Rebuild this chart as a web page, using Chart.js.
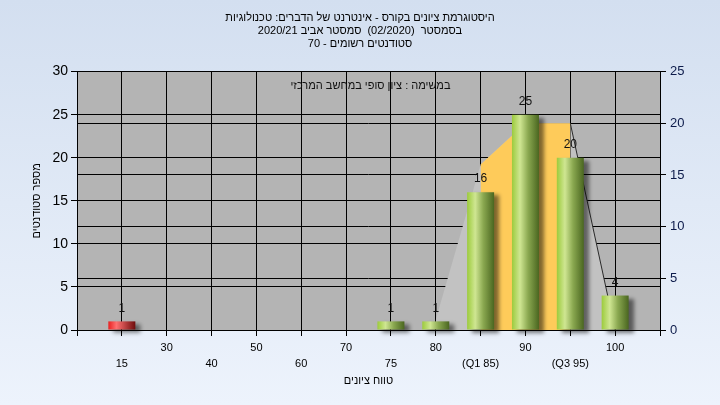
<!DOCTYPE html>
<html lang="he">
<head>
<meta charset="utf-8">
<title>היסטוגרמת ציונים</title>
<script src="https://cdn.jsdelivr.net/npm/chart.js@4.4.1/dist/chart.umd.min.js"></script>
<style>
    html, body { margin: 0; padding: 0; }
    body {
        width: 720px;
        height: 405px;
        overflow: hidden;
        background: linear-gradient(to bottom, #d3dff0, #edf3fc);
    }
    canvas { display: block; }
</style>
</head>
<body>
<canvas id="gradeChart" width="720" height="405"></canvas>
<script>
// chart data
const titleLines = [
    'היסטוגרמת ציונים בקורס - אינטרנט של הדברים: טכנולוגיות',
    'בסמסטר  (02/2020)  סמסטר אביב 2020/21',
    'סטודנטים רשומים - 70'
];
const taskCaption = 'במשימה : ציון סופי במחשב המרכזי';
const xAxisTitle = 'טווח ציונים';
const yAxisTitle = 'מספר סטודנטים';

// empty entries at both ends keep the plot edges free
const categories = ['', '15', '30', '40', '50', '60', '70', '75', '80', '(Q1 85)', '90', '(Q3 95)', '100', ''];
const studentCounts = [null, 1, 0, 0, 0, 0, 0, 1, 1, 16, 25, 20, 4, null];
const curveValues = [null, null, null, null, null, null, null, null, 1, 16, 20, 20, 0, null];
const failingGrades = ['15'];

const leftTicks = [0, 5, 10, 15, 20, 25, 30];
const rightTicks = [0, 5, 10, 15, 20, 25];

document.addEventListener('DOMContentLoaded', function () {
    Chart.defaults.font.family = '"Liberation Sans", Arial, "DejaVu Sans", sans-serif';
    Chart.defaults.color = '#000';

    const q1Index = categories.indexOf('(Q1 85)');
    const q3Index = categories.indexOf('(Q3 95)');
    // the orange band is the part of the curve between Q1 and Q3
    const quartileBand = curveValues.map((v, i) => (i >= q1Index && i <= q3Index ? v : null));

    const BAR_WIDTH = 27;

    function barGradient(context) {
        const chart = context.chart;
        const xScale = chart.scales.x;
        if (context.type !== 'data' || !xScale) return '#9c3';
        if (!studentCounts[context.dataIndex]) return 'rgba(0,0,0,0)';
        const center = xScale.getPixelForValue(context.dataIndex);
        if (!isFinite(center)) return '#9c3';
        const g = chart.ctx.createLinearGradient(center - BAR_WIDTH / 2, 0, center + BAR_WIDTH / 2, 0);
        if (failingGrades.includes(categories[context.dataIndex])) {
            g.addColorStop(0, '#e82020');
            g.addColorStop(0.3, '#ff7070');
            g.addColorStop(1, '#6e0c0c');
        } else {
            g.addColorStop(0, '#9ccb3c');
            g.addColorStop(0.3, '#cfe692');
            g.addColorStop(0.6, '#8aa850');
            g.addColorStop(1, '#4a6620');
        }
        return g;
    }

    const plotBackground = {
        id: 'plotBackground',
        beforeDraw(chart) {
            const { ctx, chartArea: a } = chart;
            ctx.save();
            ctx.fillStyle = '#b4b4b4';
            ctx.fillRect(a.left, a.top, a.right - a.left, a.bottom - a.top);
            ctx.restore();
        }
    };

    // soft drop shadow under the bars only
    const barShadow = {
        id: 'barShadow',
        beforeDatasetDraw(chart, args) {
            if (args.index !== 0) return;
            const ctx = chart.ctx;
            ctx.save();
            ctx.shadowColor = 'rgba(0, 0, 0, 0.5)';
            ctx.shadowBlur = 4;
            ctx.shadowOffsetX = 5;
            ctx.shadowOffsetY = 3;
        },
        afterDatasetDraw(chart, args) {
            if (args.index !== 0) return;
            chart.ctx.restore();
        }
    };

    const barLabels = {
        id: 'barLabels',
        afterDatasetsDraw(chart) {
            const { ctx, chartArea: a } = chart;
            const meta = chart.getDatasetMeta(0);
            ctx.save();
            ctx.fillStyle = '#111';
            ctx.textAlign = 'center';
            ctx.textBaseline = 'middle';
            ctx.font = '12px "Liberation Sans", Arial, sans-serif';
            meta.data.forEach((bar, i) => {
                const v = studentCounts[i];
                if (!v) return;
                ctx.fillText(String(v), bar.x, bar.y - 13);
            });
            // caption inside the plot
            ctx.font = '11px "Liberation Sans", Arial, sans-serif';
            ctx.fillText(taskCaption, (a.left + a.right) / 2 + 2, a.top + 14);
            ctx.restore();
        }
    };

    const ctx = document.getElementById('gradeChart').getContext('2d');
    new Chart(ctx, {
        type: 'bar',
        data: {
            labels: categories,
            datasets: [
                {
                    label: 'students',
                    data: studentCounts,
                    yAxisID: 'y',
                    backgroundColor: barGradient,
                    borderWidth: 0,
                    inflateAmount: 0,
                    barThickness: BAR_WIDTH,
                    clip: false,
                    order: 0
                },
                {
                    type: 'line',
                    label: 'quartiles',
                    data: quartileBand,
                    yAxisID: 'y2',
                    fill: 'origin',
                    backgroundColor: '#fecb5a',
                    borderWidth: 0,
                    pointRadius: 0,
                    tension: 0,
                    order: 1
                },
                {
                    type: 'line',
                    label: 'curve',
                    data: curveValues,
                    yAxisID: 'y2',
                    fill: 'origin',
                    backgroundColor: '#c2c2c2',
                    borderWidth: 1,
                    segment: {
                        borderColor: c => (c.p0DataIndex === q3Index ? '#2a2a2a' : 'rgba(0,0,0,0)')
                    },
                    pointRadius: 0,
                    tension: 0,
                    order: 2
                }
            ]
        },
        options: {
            responsive: false,
            animation: false,
            layout: { padding: 0 },
            plugins: {
                legend: { display: false },
                tooltip: { enabled: false },
                title: {
                    display: true,
                    text: titleLines,
                    color: '#000',
                    font: { size: 11, weight: 'normal', lineHeight: 1.2 },
                    padding: { top: 11, bottom: 21 }
                }
            },
            scales: {
                x: {
                    offset: false,
                    grid: { offset: false, color: '#000', tickLength: 6, tickColor: '#000' },
                    border: { color: '#000' },
                    ticks: {
                        autoSkip: false,
                        maxRotation: 0,
                        padding: 4,
                        font: { size: 11, lineHeight: 1.45 },
                        color: '#000',
                        callback: function (value, index) {
                            const label = categories[index];
                            return index % 2 === 1 ? ['', label] : label;
                        }
                    },
                    title: {
                        display: true,
                        text: xAxisTitle,
                        font: { size: 11 },
                        padding: { top: 0, bottom: 17 }
                    },
                    afterFit: s => { s.height = 75; }
                },
                y: {
                    position: 'left',
                    min: leftTicks[0],
                    max: leftTicks[leftTicks.length - 1],
                    afterBuildTicks: s => { s.ticks = leftTicks.map(v => ({ value: v })); },
                    grid: { color: '#000', tickLength: 6, tickColor: '#000' },
                    border: { color: '#000' },
                    ticks: { padding: 3, font: { size: 14 }, color: '#000' },
                    title: {
                        display: true,
                        text: yAxisTitle,
                        font: { size: 11 },
                        padding: { top: 30, bottom: 0 }
                    },
                    afterFit: s => { s.width = 77; }
                },
                y2: {
                    position: 'right',
                    min: rightTicks[0],
                    max: rightTicks[rightTicks.length - 1],
                    afterBuildTicks: s => { s.ticks = rightTicks.map(v => ({ value: v })); },
                    grid: { color: '#000', tickLength: 6, tickColor: '#000' },
                    border: { color: '#000' },
                    ticks: { padding: 4, font: { size: 13 }, color: '#0c1a4a' },
                    afterFit: s => { s.width = 60; }
                }
            }
        },
        plugins: [plotBackground, barShadow, barLabels]
    });
});
</script>
</body>
</html>
